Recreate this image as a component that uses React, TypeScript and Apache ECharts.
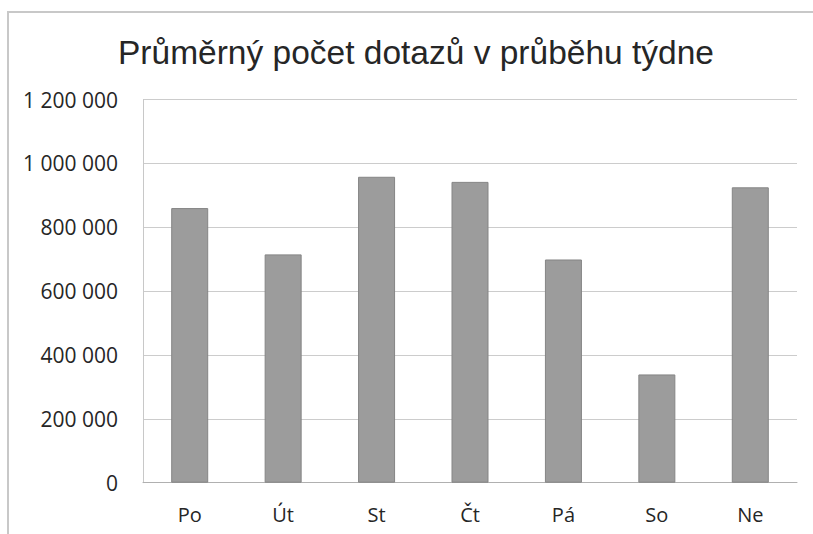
import React, { useEffect, useRef } from "react";
import * as echarts from "echarts";

const TITLE = "Průměrný počet dotazů v průběhu týdne";
const categories = ["Po", "Út", "St", "Čt", "Pá", "So", "Ne"];
const values = [860000, 715000, 958000, 942000, 699000, 339000, 925000];
const yMin = 0;
const yMax = 1200000;
const yStep = 200000;

const fmt = (v: number) =>
  String(Math.round(v)).replace(/\B(?=(\d{3})+(?!\d))/g, " ");

export default function App() {
  const ref = useRef<HTMLDivElement>(null);
  useEffect(() => {
    if (!ref.current) return;
    const chart = echarts.init(ref.current, undefined, { renderer: "svg" });
    chart.setOption({
      animation: false,
      backgroundColor: "#ffffff",
      title: {
        text: TITLE,
        left: 113,
        top: 30,
        textStyle: {
          fontFamily: "Liberation Sans",
          fontSize: 33.5,
          fontWeight: "normal",
          color: "#262626",
        },
      },
      graphic: [
        {
          type: "polyline",
          shape: { points: [[8, 534], [8, 12], [813, 12]] },
          style: { stroke: "#c8c8c8", lineWidth: 2, fill: "none" },
          silent: true,
        },
      ],
      grid: { left: 143, right: 16, top: 99.5, bottom: 51.3, containLabel: false },
      xAxis: {
        type: "category",
        data: categories,
        axisLine: { show: true, lineStyle: { color: "#b0b0b0", width: 1 } },
        axisTick: { show: false },
        axisLabel: {
          margin: 22,
          fontFamily: "Open Sans",
          fontSize: 20,
          color: "#262626",
        },
      },
      yAxis: {
        type: "value",
        min: yMin,
        max: yMax,
        interval: yStep,
        axisLine: { show: true, lineStyle: { color: "#c8c8c8", width: 1 } },
        axisTick: { show: false },
        splitLine: { show: true, lineStyle: { color: "#cccccc", width: 1 } },
        axisLabel: {
          margin: 25,
          fontFamily: "Open Sans",
          fontSize: 21,
          color: "#262626",
          formatter: (v: number) => fmt(v),
        },
      },
      series: [
        {
          type: "bar",
          data: values,
          barWidth: 37,
          itemStyle: {
            color: "#9c9c9c",
            borderColor: "#858585",
            borderWidth: 1,
          },
        },
      ],
    });
    return () => chart.dispose();
  }, []);
  return (
    <div
      ref={ref}
      style={{ position: "fixed", left: 0, top: 0, width: 813, height: 534 }}
    />
  );
}
